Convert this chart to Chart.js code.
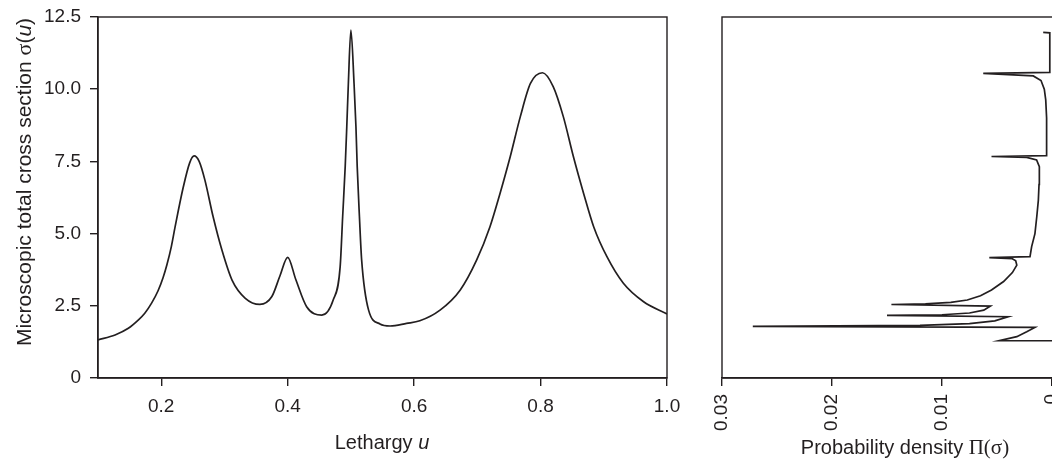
<!DOCTYPE html>
<html>
<head>
<meta charset="utf-8">
<script src="https://cdn.jsdelivr.net/npm/chart.js@4.4.0/dist/chart.umd.min.js"></script>
<style>
  html, body { margin: 0; padding: 0; background: #fff; overflow: hidden; }
  #wrap { position: relative; width: 1052px; height: 461px; overflow: hidden; }
  #left { position: absolute; left: 0; top: 0; }
  #right { position: absolute; left: 700px; top: 0; }
</style>
</head>
<body>
<div id="wrap">
  <canvas id="left" width="700" height="461"></canvas>
  <canvas id="right" width="390" height="461"></canvas>
</div>
<script>
// left panel: cross section against lethargy
const lethargy = [0.100, 0.127, 0.148, 0.164, 0.174, 0.185, 0.195, 0.203, 0.209, 0.216,
  0.222, 0.235, 0.245, 0.252, 0.260, 0.269, 0.282, 0.296, 0.312, 0.333,
  0.356, 0.375, 0.388, 0.400, 0.413, 0.430, 0.454, 0.472, 0.483, 0.487,
  0.491, 0.4935, 0.496, 0.500, 0.505, 0.508, 0.510, 0.5135, 0.517, 0.528,
  0.546, 0.562, 0.588, 0.609, 0.641, 0.673, 0.699, 0.720, 0.736, 0.752,
  0.768, 0.784, 0.803, 0.820, 0.836, 0.852, 0.868, 0.884, 0.905, 0.931,
  0.963, 1.000];
const crossSection = [1.32, 1.49, 1.72, 2.01, 2.24, 2.60, 3.02, 3.48, 3.92, 4.55,
  5.24, 6.62, 7.45, 7.69, 7.50, 6.86, 5.59, 4.43, 3.39, 2.76,
  2.55, 2.82, 3.55, 4.18, 3.40, 2.47, 2.18, 2.70, 3.85, 5.59,
  7.32, 8.70, 10.2, 12.05, 10.2, 8.70, 7.32, 5.59, 4.09, 2.35,
  1.87, 1.80, 1.89, 1.98, 2.35, 3.05, 4.09, 5.24, 6.40, 7.66,
  9.05, 10.2, 10.57, 10.09, 9.05, 7.66, 6.40, 5.24, 4.20, 3.28,
  2.64, 2.22];

// right panel: probability density of the cross section
const densitySigma = [1.29, 1.29, 1.43, 1.60, 1.75, 1.785, 1.82, 1.88, 1.98, 2.12,
  2.17, 2.19, 2.25, 2.35, 2.49, 2.545, 2.565, 2.62, 2.70, 2.85,
  3.05, 3.34, 3.65, 3.91, 4.06, 4.13, 4.165, 4.20, 4.55, 5.0,
  5.6, 6.16, 6.7, 7.32, 7.55, 7.64, 7.67, 7.70, 8.47, 9.0,
  9.63, 10.0, 10.3, 10.46, 10.55, 10.58, 11.95, 11.97];
const density = [0, 0.0048, 0.0032, 0.0023, 0.00155, 0.0272, 0.012, 0.0075, 0.0052, 0.0040,
  0.0150, 0.010, 0.0075, 0.0062, 0.0056, 0.0146, 0.0115, 0.0092, 0.0077, 0.0065,
  0.0055, 0.0044, 0.0036, 0.0032, 0.0033, 0.0036, 0.0057, 0.0020, 0.00185, 0.00155,
  0.00138, 0.00124, 0.00118, 0.00115, 0.0014, 0.0023, 0.0055, 0.0005, 0.00048, 0.0005,
  0.00057, 0.0007, 0.0010, 0.0017, 0.00625, 0.0002, 0.0002, 0.0008];

const sigmaTicks = [0, 2.5, 5.0, 7.5, 10.0, 12.5];
const lethargyTicks = [0.2, 0.4, 0.6, 0.8, 1.0];
const densityTicks = [0.03, 0.02, 0.01, 0];

const ink = "#231f20";
const sans = "'Liberation Sans', Arial, sans-serif";
const serif = "'Liberation Serif', 'Times New Roman', serif";
const tickFont = { family: sans, size: 19 };

const framePlugin = {
  id: "frame",
  afterDatasetsDraw(chart) {
    const { ctx, chartArea: a } = chart;
    ctx.save();
    ctx.strokeStyle = ink;
    ctx.lineWidth = 1.4;
    ctx.strokeRect(a.left, a.top, a.right - a.left, a.bottom - a.top);
    ctx.restore();
  }
};

function drawRich(ctx, parts, cx, cy, angle) {
  ctx.save();
  ctx.translate(cx, cy);
  ctx.rotate(angle);
  let total = 0;
  parts.forEach(p => { ctx.font = p[1]; total += ctx.measureText(p[0]).width; });
  let x = -total / 2;
  ctx.textBaseline = "middle";
  ctx.fillStyle = ink;
  parts.forEach(p => {
    ctx.font = p[1];
    ctx.fillText(p[0], x, 0);
    x += ctx.measureText(p[0]).width;
  });
  ctx.restore();
}

const titlePlugin = {
  id: "richTitles",
  afterDraw(chart, args, opts) {
    (opts.items || []).forEach(t => drawRich(chart.ctx, t.parts, t.x, t.y, t.angle || 0));
  }
};

const axisCommon = {
  grid: { drawOnChartArea: false, tickLength: 8, color: ink, lineWidth: 1.4 },
  border: { color: ink, width: 1.4 }
};

new Chart(document.getElementById("left"), {
  type: "line",
  data: {
    datasets: [{
      data: lethargy.map((u, i) => ({ x: u, y: crossSection[i] })),
      borderColor: ink,
      borderWidth: 1.7,
      pointRadius: 0,
      cubicInterpolationMode: "monotone",
      fill: false
    }]
  },
  options: {
    responsive: false,
    animation: false,
    layout: { padding: { left: 0, top: 17, right: 33, bottom: 0 } },
    plugins: {
      legend: { display: false },
      tooltip: { enabled: false },
      richTitles: {
        items: [
          { parts: [["Lethargy ", "20px " + sans], ["u", "italic 20px " + sans]], x: 382, y: 443 },
          { parts: [["Microscopic total cross section ", "21px " + sans], ["\u03c3", "22px " + serif],
                    ["(", "21px " + sans], ["u", "italic 21px " + sans], [")", "21px " + sans]],
            x: 25, y: 182, angle: -Math.PI / 2 }
        ]
      }
    },
    scales: {
      x: {
        ...axisCommon,
        type: "linear", min: 0.1, max: 1.0,
        afterBuildTicks: s => { s.ticks = lethargyTicks.map(v => ({ value: v })); },
        afterFit: s => { s.height = 83; },
        ticks: { color: ink, font: tickFont, padding: 9, maxRotation: 0, callback: v => v.toFixed(1) }
      },
      y: {
        ...axisCommon,
        min: 0, max: 12.5,
        afterBuildTicks: s => { s.ticks = sigmaTicks.map(v => ({ value: v })); },
        afterFit: s => { s.width = 98; s.paddingTop = 6; s.paddingBottom = 6; },
        ticks: { color: ink, font: tickFont, padding: 9, callback: v => v === 0 ? "0" : v.toFixed(1) }
      }
    }
  },
  plugins: [framePlugin, titlePlugin]
});

new Chart(document.getElementById("right"), {
  type: "scatter",
  data: {
    datasets: [{
      data: density.map((d, i) => ({ x: d, y: densitySigma[i] })),
      showLine: true,
      borderColor: ink,
      borderWidth: 1.7,
      pointRadius: 0,
      tension: 0,
      fill: false
    }]
  },
  options: {
    responsive: false,
    animation: false,
    layout: { padding: { left: 22, top: 17, right: 16, bottom: 0 } },
    plugins: {
      legend: { display: false },
      tooltip: { enabled: false },
      richTitles: {
        items: [
          { parts: [["Probability density ", "20px " + sans], ["\u03a0(\u03c3)", "21px " + serif]], x: 205, y: 448 }
        ]
      }
    },
    scales: {
      x: {
        ...axisCommon,
        type: "linear", reverse: true, min: -0.002, max: 0.03,
        afterBuildTicks: s => { s.ticks = densityTicks.map(v => ({ value: v })); },
        afterFit: s => { s.height = 83; },
        ticks: { color: ink, font: tickFont, padding: 8, minRotation: 90, maxRotation: 90, autoSkip: false,
                 callback: v => v === 0 ? "0" : v.toFixed(2) }
      },
      y: {
        display: false,
        min: 0, max: 12.5
      }
    }
  },
  plugins: [framePlugin, titlePlugin]
});
</script>
</body>
</html>
